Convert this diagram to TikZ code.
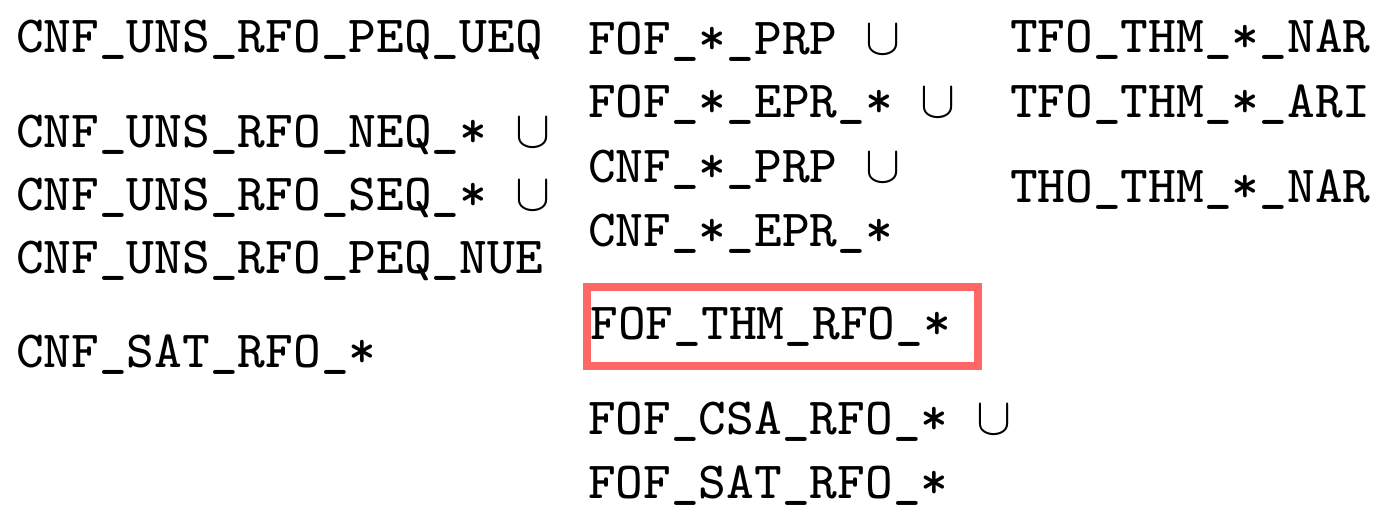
\documentclass[tikz,border=0pt]{standalone}
\usepackage{fontspec}
\newfontfamily\monoeight{lmmono8-regular.otf}
\definecolor{boxred}{RGB}{255,102,102}
\begin{document}
\begin{tikzpicture}[x=0.19pt, y=-0.19pt,
  every node/.style={inner sep=0pt, anchor=base west,
    font=\monoeight\fontsize{9.92pt}{12pt}\selectfont},
  framed/.style={draw=boxred, line width=1.45pt}]
\useasboundingbox (0,0) rectangle (1394,519);
% left column
\node (a1) at (15,53)  {CNF\_UNS\_RFO\_PEQ\_UEQ};
\node (a2) at (15,148) {CNF\_UNS\_RFO\_NEQ\_* $\cup$};
\node (a3) at (15,211) {CNF\_UNS\_RFO\_SEQ\_* $\cup$};
\node (a4) at (15,274) {CNF\_UNS\_RFO\_PEQ\_NUE};
\node (a5) at (15,368) {CNF\_SAT\_RFO\_*};
% middle column
\node (b1) at (587,55)  {FOF\_*\_PRP $\cup$};
\node (b2) at (587,118) {FOF\_*\_EPR\_* $\cup$};
\node (b3) at (587,183) {CNF\_*\_PRP $\cup$};
\node (b4) at (587,247) {CNF\_*\_EPR\_*};
\node (b5) [framed, text width=72.9pt, text height=10.1pt, text depth=5pt,
  inner xsep=0.7pt] at (583,340) {FOF\_THM\_RFO\_*};
\node (b6) at (587,435) {FOF\_CSA\_RFO\_* $\cup$};
\node (b7) at (587,499) {FOF\_SAT\_RFO\_*};
% right column
\node (c1) at (1009,53)  {TFO\_THM\_*\_NAR};
\node (c2) at (1009,118) {TFO\_THM\_*\_ARI};
\node (c3) at (1009,203) {THO\_THM\_*\_NAR};
\end{tikzpicture}
\end{document}
